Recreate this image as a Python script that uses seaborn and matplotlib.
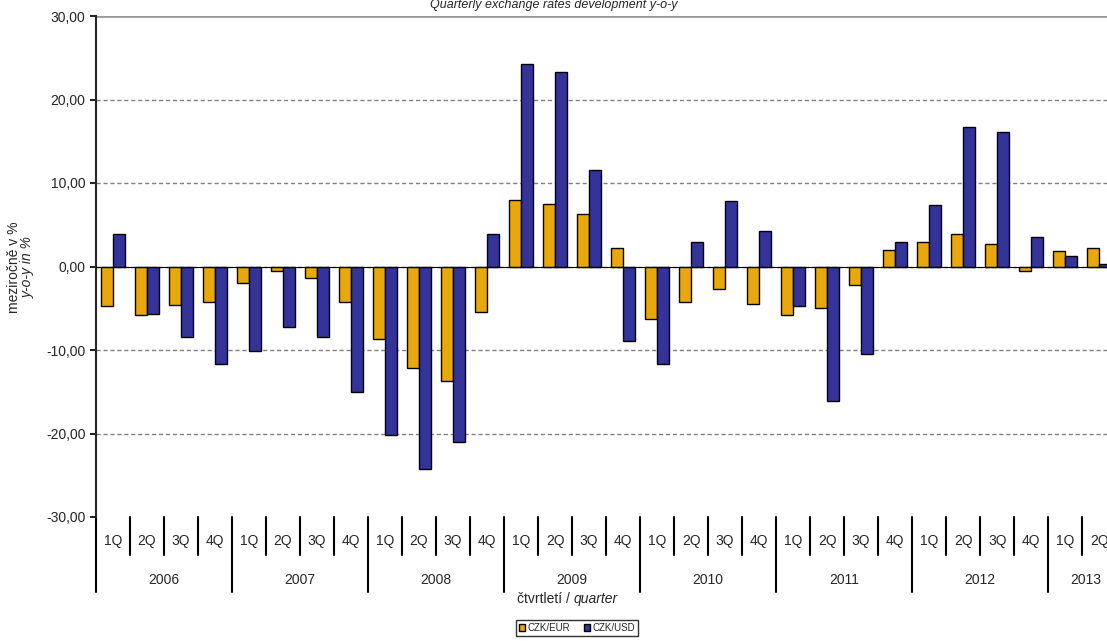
import pandas as pd
import seaborn as sns
import matplotlib.pyplot as plt
import matplotlib.transforms as mtrans
import numpy as np

years = ["2006", "2007", "2008", "2009", "2010", "2011", "2012", "2013"]
quarters = ["1Q", "2Q", "3Q", "4Q"]
eur = [-4.7, -5.8, -4.6, -4.3, -2.0, -0.5, -1.4, -4.3,
       -8.7, -12.1, -13.7, -5.5, 8.0, 7.5, 6.3, 2.2,
       -6.3, -4.2, -2.7, -4.5, -5.8, -5.0, -2.2, 2.0,
       2.9, 3.9, 2.7, -0.5, 1.9, 2.2]
usd = [3.9, -5.7, -8.5, -11.7, -10.1, -7.2, -8.5, -15.0,
       -20.2, -24.3, -21.0, 3.9, 24.2, 23.3, 11.5, -8.9,
       -11.7, 2.9, 7.9, 4.2, -4.7, -16.1, -10.5, 2.9,
       7.4, 16.7, 16.1, 3.5, 1.2, 0.3]

labels = [f"{y} {q}" for y in years for q in quarters][:len(eur)]
df = pd.DataFrame({"period": labels * 2,
                   "value": eur + usd,
                   "series": ["CZK/EUR"] * len(eur) + ["CZK/USD"] * len(usd)})

sns.set_style("white")
plt.rcParams['font.family'] = ['Liberation Sans', 'DejaVu Sans']
fig = plt.figure(figsize=(11.07, 6.41), dpi=100)
ax = fig.add_axes([96 / 1107, 1 - 517 / 641, 1 - 96 / 1107, 501 / 641])

sns.barplot(data=df, x="period", y="value", hue="series", order=labels,
            palette={"CZK/EUR": "#E8A80C", "CZK/USD": "#333399"}, saturation=1,
            width=0.72, edgecolor="black", linewidth=1, ax=ax, legend=False)

ax.set_xlim(-0.5, 29.23)
ax.set_ylim(-30, 30)
ax.set_yticks(np.arange(-30, 31, 10))
ax.set_yticklabels([f"{v:.2f}".replace(".", ",") for v in np.arange(-30, 31, 10)], fontsize=10)
for v in [-20, -10, 0, 10, 20]:
    ax.axhline(v, color="#808080", ls=(0, (3, 2)), lw=1, zorder=0)
ax.axhline(30, color="#999999", lw=2, zorder=0)
ax.axhline(0, color="black", lw=0.8, zorder=3)
for s in ["top", "right", "bottom"]:
    ax.spines[s].set_visible(False)
ax.spines["left"].set_linewidth(1.5)
ax.tick_params(axis="y", left=True, length=4, width=1.5)
ax.set_xticks([])
ax.set_xlabel("")
ax.set_ylabel("")

# two-level category axis
tr = mtrans.blended_transform_factory(ax.transData, fig.transFigure)
yq = 1 - 541 / 641
yy = 1 - 580 / 641
for i, lab in enumerate(labels):
    ax.text(i, yq, lab.split()[1], transform=tr, ha="center", va="center", fontsize=10)
    x = i - 0.5
    bottom = 1 - 592 / 641 if i % 4 == 0 else 1 - 555 / 641
    ax.plot([x, x], [1 - 517 / 641, bottom], transform=tr, color="black", lw=1.5, clip_on=False)
for j, y in enumerate(years):
    ax.text(j * 4 + 1.5 if j < 7 else 28.6, yy, y, transform=tr, ha="center", va="center", fontsize=10)

fig.text(0.5, 1 - 5 / 641, "Quarterly exchange rates development y-o-y", ha="center", va="center",
         fontsize=9, style="italic")
fig.text(14 / 1107, 1 - 267 / 641, "meziročně v %", rotation=90, ha="center", va="center", fontsize=10)
fig.text(28 / 1107, 1 - 267 / 641, "y-o-y in %", rotation=90, ha="center", va="center",
         fontsize=10, style="italic")
fig.text(574 / 1107, 1 - 599 / 641, "čtvrtletí / ", ha="right", va="center", fontsize=10)
fig.text(574 / 1107, 1 - 599 / 641, "quarter", ha="left", va="center", fontsize=10, style="italic")

handles = [plt.Rectangle((0, 0), 1, 1, fc="#E8A80C", ec="black"),
           plt.Rectangle((0, 0), 1, 1, fc="#333399", ec="black")]
leg = fig.legend(handles, ["CZK/EUR", "CZK/USD"], loc="center", bbox_to_anchor=(577 / 1107, 1 - 628 / 641),
                 ncol=2, fontsize=7, frameon=True, fancybox=False, edgecolor="black",
                 handlelength=0.6, handleheight=0.6, handletextpad=0.2, columnspacing=1.5,
                 borderpad=0.3)
leg.get_frame().set_linewidth(1)

fig.savefig("out.png", dpi=100)
